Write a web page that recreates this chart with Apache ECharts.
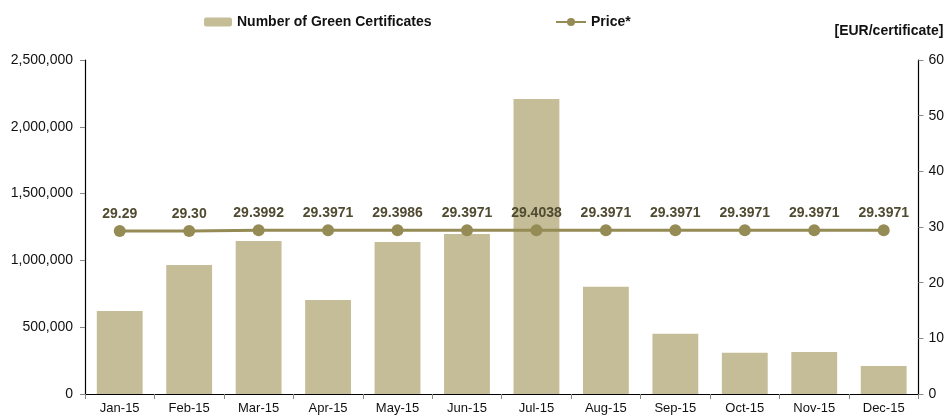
<!DOCTYPE html>
<html><head><meta charset="utf-8">
<script src="https://cdn.jsdelivr.net/npm/echarts@6/dist/echarts.min.js"></script>
<style>html,body{margin:0;padding:0;background:#fff}#c{width:947px;height:416px}</style>
</head><body><div id="c"></div>
<script>
const categories = ['Jan-15','Feb-15','Mar-15','Apr-15','May-15','Jun-15','Jul-15','Aug-15','Sep-15','Oct-15','Nov-15','Dec-15'];
const certificates = [621000, 965000, 1145000, 704000, 1138000, 1198000, 2208000, 803000, 451000, 309000, 314000, 210000];
const prices = [29.29, 29.30, 29.3992, 29.3971, 29.3986, 29.3971, 29.4038, 29.3971, 29.3971, 29.3971, 29.3971, 29.3971];
const priceLabels = ['29.29','29.30','29.3992','29.3971','29.3986','29.3971','29.4038','29.3971','29.3971','29.3971','29.3971','29.3971'];
const leftTicks = [0, 500000, 1000000, 1500000, 2000000, 2500000];
const rightTicks = [0, 10, 20, 30, 40, 50, 60];

const font = 'Liberation Sans, Arial, sans-serif';
const chart = echarts.init(document.getElementById('c'));
chart.setOption({
  animation: false,
  textStyle: { fontFamily: font },
  legend: [
    { data: ['Number of Green Certificates'], left: 199, top: 10, itemWidth: 28, itemHeight: 9, itemGap: 4,
      textStyle: { fontFamily: font, fontSize: 14, fontWeight: 'bold', color: '#111' } },
    { data: ['Price*'], left: 550, top: 10, itemWidth: 30, itemHeight: 10, itemGap: 4,
      textStyle: { fontFamily: font, fontSize: 14, fontWeight: 'bold', color: '#111' } }
  ],
  grid: { left: 85, right: 26, top: 60, bottom: 22, containLabel: false },
  xAxis: {
    type: 'category', data: categories,
    axisLine: { lineStyle: { color: '#000', width: 1.2 } },
    axisTick: { show: true, length: 5, lineStyle: { color: '#888' } },
    axisLabel: { color: '#111', fontSize: 13, fontFamily: font, margin: 8 }
  },
  yAxis: [
    { type: 'value', min: leftTicks[0], max: leftTicks[leftTicks.length - 1], interval: leftTicks[1] - leftTicks[0],
      axisLine: { show: true, lineStyle: { color: '#000', width: 1.2 } },
      axisTick: { show: true, length: 5, lineStyle: { color: '#888' } },
      splitLine: { show: false },
      axisLabel: { color: '#111', fontSize: 14, fontFamily: font, margin: 12,
        formatter: v => v.toLocaleString('en-US') } },
    { type: 'value', min: rightTicks[0], max: rightTicks[rightTicks.length - 1], interval: rightTicks[1] - rightTicks[0],
      position: 'right',
      name: '[EUR/certificate]', nameLocation: 'end', nameGap: 22,
      nameTextStyle: { fontFamily: font, fontSize: 14, fontWeight: 'bold', color: '#111', align: 'right', padding: [0, -25, 0, 0] },
      axisLine: { show: true, lineStyle: { color: '#000', width: 1.2 } },
      axisTick: { show: true, length: 5, lineStyle: { color: '#888' } },
      splitLine: { show: false },
      axisLabel: { color: '#111', fontSize: 14, fontFamily: font, margin: 10 } }
  ],
  series: [
    { name: 'Number of Green Certificates', type: 'bar', data: certificates, yAxisIndex: 0,
      barCategoryGap: '34%', itemStyle: { color: '#c4bd97' } },
    { name: 'Price*', type: 'line', data: prices, yAxisIndex: 1,
      symbol: 'circle', symbolSize: 12,
      lineStyle: { color: '#958b55', width: 3 },
      itemStyle: { color: '#958b55' },
      label: { show: true, position: 'top', distance: 4, fontFamily: font, fontSize: 14, fontWeight: 'bold', color: '#4f4a30',
        formatter: p => priceLabels[p.dataIndex] } }
  ]
});
</script></body></html>
